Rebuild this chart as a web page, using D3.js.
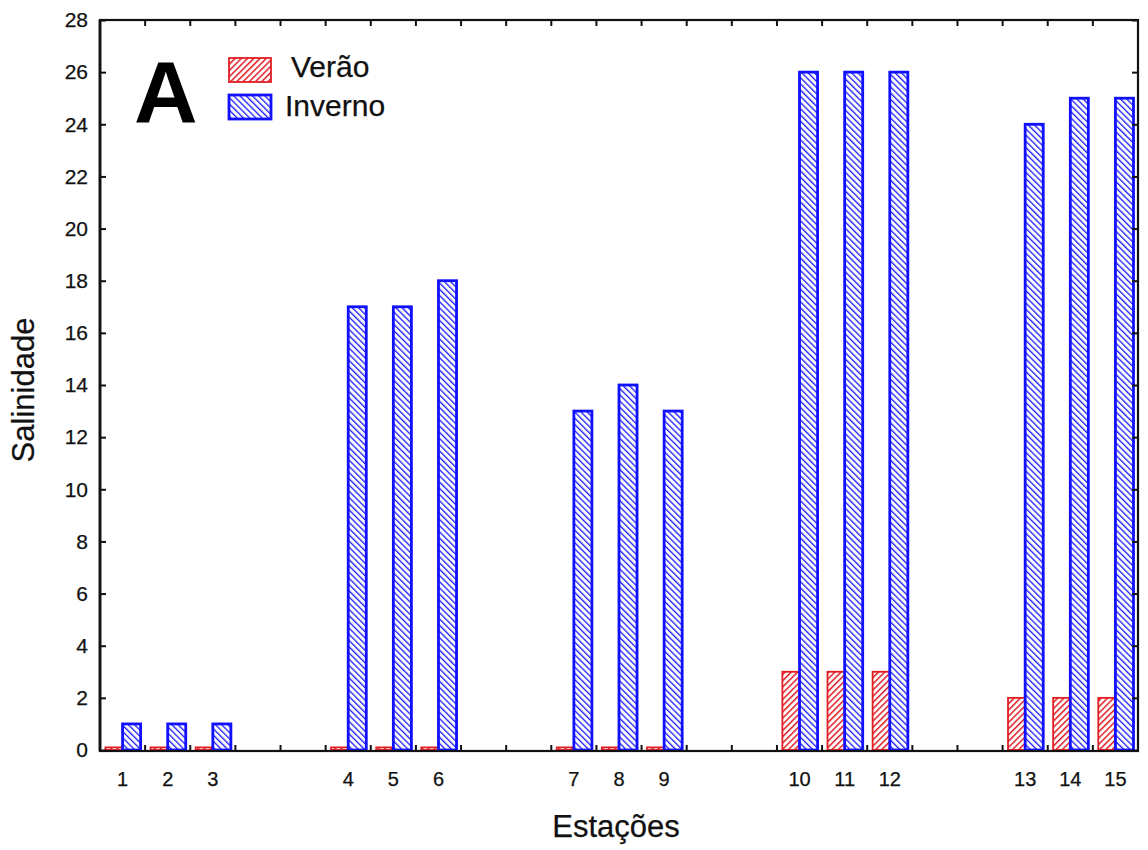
<!DOCTYPE html>
<html>
<head>
<meta charset="utf-8">
<script src="https://cdn.jsdelivr.net/npm/d3@7"></script>
<style>
  html, body { margin: 0; padding: 0; background: #fff; }
  svg { display: block; font-family: "Liberation Sans", Arial, sans-serif; }
  .lbl { fill: #111; stroke: #111; stroke-width: 0.25px; }
</style>
</head>
<body>
<svg id="chart" width="1148" height="850"></svg>
<script>
// Sampling stations, with empty slots separating the five groups
const slots = ["1", "2", "3", "g1a", "g1b", "4", "5", "6", "g2a", "g2b",
               "7", "8", "9", "g3a", "g3b", "10", "11", "12", "g4a", "g4b",
               "13", "14", "15"];
const stations = ["1", "2", "3", "4", "5", "6", "7", "8", "9", "10", "11", "12", "13", "14", "15"];
const verao   = [0.1, 0.1, 0.1, 0.1, 0.1, 0.1, 0.1, 0.1, 0.1, 3, 3, 3, 2, 2, 2];
const inverno = [1, 1, 1, 17, 17, 18, 13, 14, 13, 26, 26, 26, 24, 25, 25];
const yTicks = [0, 2, 4, 6, 8, 10, 12, 14, 16, 18, 20, 22, 24, 26, 28];
const seriesNames = ["Verão", "Inverno"];

const svg = d3.select("#chart");
const m = { left: 100, right: 1138, top: 20, bottom: 751 };

const defs = svg.append("defs");
function hatch(id, color, dir, w) {
  const s = 4.4;
  const p = defs.append("pattern")
    .attr("id", id).attr("patternUnits", "userSpaceOnUse")
    .attr("width", s).attr("height", s)
    .attr("patternTransform", `rotate(${dir})`);
  p.append("rect").attr("width", s).attr("height", s).attr("fill", "#fff");
  p.append("line").attr("x1", 0).attr("y1", 0).attr("x2", 0).attr("y2", s)
    .attr("stroke", color).attr("stroke-width", w);
}
hatch("hatchRed", "#e41c24", 45, 3.0);
hatch("hatchBlue", "#1a1aff", -45, 2.6);

const x = d3.scaleBand().domain(slots).range([m.left, m.right]);
const inner = d3.scaleBand().domain(seriesNames).range([0, x.bandwidth()]).paddingOuter(0.25);
const y = d3.scaleLinear().domain([0, 28]).range([m.bottom - 1, m.top]);

const styles = {
  "Verão":   { fill: "url(#hatchRed)", stroke: "#e01e24", sw: 1.8 },
  "Inverno": { fill: "url(#hatchBlue)", stroke: "#1010ff", sw: 2.8 }
};

const rows = stations.map((s, i) => ({ s, vals: [["Verão", verao[i]], ["Inverno", inverno[i]]] }));

const g = svg.append("g");
rows.forEach(r => {
  r.vals.forEach(([name, v]) => {
    const st = styles[name];
    const x0 = x(r.s) + inner(name);
    g.append("rect")
      .attr("x", x0 + (name === "Verão" ? st.sw / 2 : 0))
      .attr("y", y(v))
      .attr("width", inner.bandwidth() - (name === "Verão" ? st.sw / 2 : 0))
      .attr("height", y(0) - y(v))
      .attr("fill", st.fill)
      .attr("stroke", st.stroke)
      .attr("stroke-width", st.sw);
  });
});

// Frame
svg.append("rect")
  .attr("x", m.left).attr("y", m.top)
  .attr("width", m.right - m.left).attr("height", m.bottom - m.top)
  .attr("fill", "none").attr("stroke", "#111").attr("stroke-width", 2.2);
svg.append("line")
  .attr("x1", m.left).attr("x2", m.left).attr("y1", m.top).attr("y2", m.bottom)
  .attr("stroke", "#111").attr("stroke-width", 2.8);

// Y axis (left) with inward ticks, plus mirrored ticks on the right
const yAxis = d3.axisLeft(y).tickValues(yTicks).tickSize(-6).tickPadding(12);
const ya = svg.append("g").attr("transform", `translate(${m.left},0)`).call(yAxis);
ya.select(".domain").remove();
ya.selectAll("line").attr("stroke", "#111").attr("stroke-width", 2);
ya.selectAll("text").attr("class", "lbl").attr("font-size", 21);

const yr = svg.append("g").attr("transform", `translate(${m.right},0)`)
  .call(d3.axisRight(y).tickValues(yTicks).tickSize(-6).tickFormat(""));
yr.select(".domain").remove();
yr.selectAll("line").attr("stroke", "#111").attr("stroke-width", 2);

// X axis: labels at station centres, ticks at slot boundaries
const boundaries = slots.slice(1).map(s => x(s));
[m.bottom, m.top].forEach((yy, k) => {
  svg.append("g").selectAll("line").data(boundaries).join("line")
    .attr("x1", d => d).attr("x2", d => d)
    .attr("y1", yy).attr("y2", k === 0 ? yy - 6 : yy + 6)
    .attr("stroke", "#111").attr("stroke-width", 2);
});
svg.append("g").selectAll("text").data(stations).join("text")
  .attr("class", "lbl")
  .attr("x", d => x(d) + x.bandwidth() / 2)
  .attr("y", 786)
  .attr("text-anchor", "middle")
  .attr("font-size", 20)
  .text(d => d);

// Axis titles
svg.append("text")
  .attr("class", "lbl")
  .attr("x", 616).attr("y", 837)
  .attr("text-anchor", "middle").attr("font-size", 31)
  .text("Estações");
svg.append("text")
  .attr("class", "lbl")
  .attr("transform", "translate(34,390) rotate(-90)")
  .attr("text-anchor", "middle").attr("font-size", 31)
  .text("Salinidade");

// Panel letter
svg.append("text")
  .attr("x", 134).attr("y", 122)
  .attr("font-size", 88).attr("font-weight", "bold").attr("fill", "#000")
  .text("A");

// Legend
const leg = [
  { name: "Verão", y: 58, tx: 291, by: 77 },
  { name: "Inverno", y: 95, tx: 285, by: 116 }
];
leg.forEach(l => {
  const st = styles[l.name];
  svg.append("rect")
    .attr("x", 229).attr("y", l.y).attr("width", 42).attr("height", 24)
    .attr("fill", st.fill).attr("stroke", st.stroke).attr("stroke-width", st.sw);
  svg.append("text")
    .attr("class", "lbl")
    .attr("x", l.tx).attr("y", l.by)
    .attr("font-size", 30)
    .text(l.name);
});
</script>
</body>
</html>
